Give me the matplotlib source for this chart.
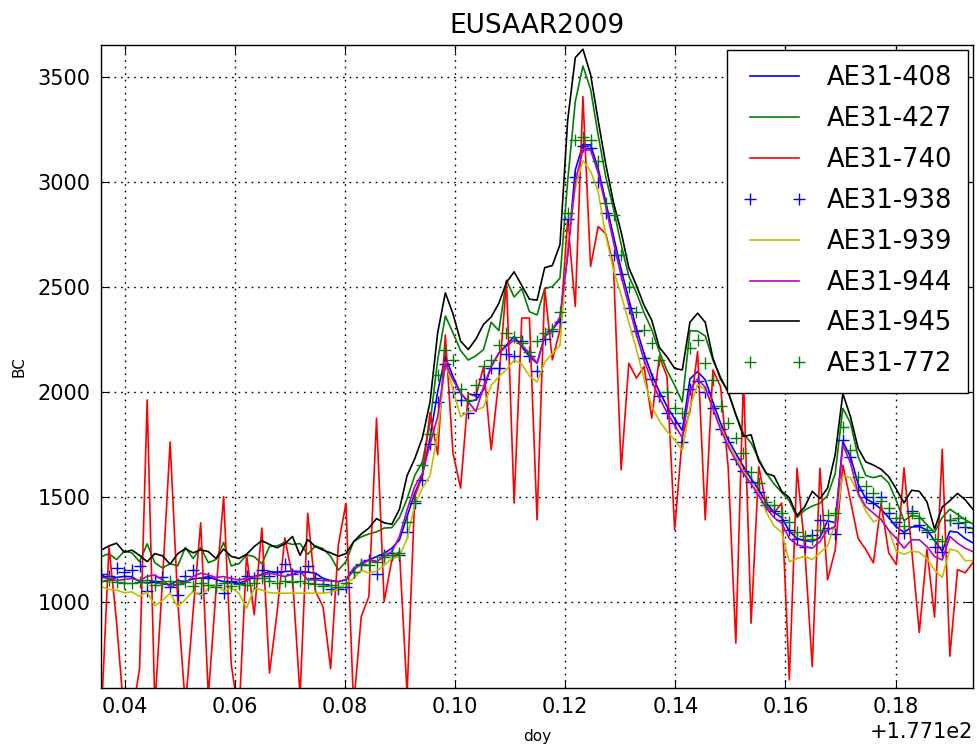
import numpy as np
import matplotlib
matplotlib.use("Agg")
import matplotlib.pyplot as plt

plt.rcParams["font.family"] = ["DejaVu Sans"]

# time axis: day of year, 2-minute samples
start_doy = 177.1357
step_min = 2.0
n_pts = 115

ae31_408 = [1127,1105,1115,1120,1118,1095,1088,1092,1085,1080,1100,1095,1108,1112,1119,
            1105,1095,1092,1087,1100,1119,1130,1143,1140,1143,1145,1143,1140,1135,
            1111,1100,1095,1103,1150,1183,1198,1214,1230,1254,1294,1405,1516,1600,
            1780,2000,2167,2071,1992,1952,1960,2008,2119,2183,2222,2262,2214,2167,2135,2262,2294,2341,
            2650,3055,3175,3175,3060,2900,2740,2580,2440,2300,2180,2080,2000,
            1930,1870,1815,2060,2095,2056,1950,1850,1770,1706,1643,1585,1532,1469,1425,1400,1335,
            1300,1290,1286,1305,1385,1375,1760,1690,1560,1490,1470,1440,1400,1355,1330,1355,1357,1341,1290,1240,1335,1330,1300,1280]

ae31_427 = [1214,1228,1200,1240,1232,1190,1275,1185,1160,1180,1170,1258,1205,1258,1185,
            1200,1282,1170,1180,1222,1214,1180,1262,1265,1282,1272,1276,1225,1265,
            1252,1215,1150,1190,1285,1308,1322,1332,1350,1352,1400,1490,1600,1665,
            1850,2150,2360,2280,2195,2150,2170,2200,2330,2290,2530,2450,2490,2380,2365,2490,2500,2540,
            3000,3380,3550,3440,3220,3020,2870,2700,2550,2470,2375,2295,2190,
            2100,2030,1950,2290,2288,2265,2150,2070,1995,1890,1800,1755,1680,1610,1560,1520,1480,
            1400,1435,1455,1468,1505,1610,1920,1850,1690,1600,1590,1600,1565,1480,1385,1410,1405,1365,1330,1400,1440,1415,1390,1370]

ae31_740 = [450,1260,900,450,450,680,1960,500,1100,1760,1000,500,950,1375,550,
            1050,1500,700,450,1222,937,1350,660,950,1303,1119,550,1420,1050,
            976,680,1270,1468,500,929,1024,1873,1000,1198,1238,560,1500,1600,
            1900,1700,2270,1707,1540,1992,1976,2119,1722,2056,2524,1469,2350,2350,1389,2492,2151,2294,
            2817,2405,3405,2595,2786,2750,2600,1627,2135,2064,2119,1873,2167,
            2071,1341,1786,1905,2190,1389,2103,2024,1640,802,2071,897,1643,1452,1422,1469,627,
            1635,1260,690,1635,1103,1246,1650,1480,1300,1248,1184,1467,1232,1176,1637,1250,853,1248,926,1725,740,1152,1137,1184]

ae31_938 = [1130,1120,1159,1143,1151,1167,1048,1100,1119,1070,1032,1120,1151,1040,1110,
            1080,1040,1100,1090,1120,1110,1150,1120,1140,1180,1130,1140,1170,1110,
            1085,1060,1060,1070,1140,1175,1200,1130,1220,1230,1220,1330,1470,1580,
            1750,1950,2130,2000,1960,1900,1990,2060,2110,2110,2180,2170,2240,2170,2100,2250,2290,2330,
            2820,3020,3170,3160,3000,2850,2650,2560,2400,2290,2160,2060,1980,
            1900,1850,1760,2010,2050,2000,1920,1820,1760,1680,1620,1570,1520,1460,1430,1390,1340,
            1300,1262,1318,1389,1349,1320,1770,1690,1532,1500,1470,1500,1421,1380,1326,1429,1365,1330,1262,1238,1389,1373,1357,1330]

ae31_939 = [1070,1058,1055,1042,1046,1025,1045,980,1005,1040,975,1010,1050,1030,1060,
            1080,1050,1065,1040,968,1065,1055,1042,1040,1040,1040,1040,1040,1040,
            1040,1045,1060,1088,1110,1150,1135,1145,1172,1205,1214,1300,1460,1540,
            1600,1800,2140,2010,1880,1905,1913,1925,2030,2070,2105,2150,2130,2075,2045,2140,2180,2220,
            2700,2970,3100,3050,2950,2740,2580,2460,2330,2200,2060,1930,1860,
            1810,1770,1720,1925,2035,2008,1920,1830,1750,1690,1620,1560,1515,1425,1360,1330,1190,
            1205,1215,1200,1232,1265,1373,1600,1590,1515,1430,1380,1395,1340,1240,1225,1240,1235,1205,1150,1115,1250,1240,1195,1195]

ae31_944 = [1115,1110,1100,1105,1110,1100,1120,1127,1103,1070,1080,1090,1119,1135,1127,
            1115,1119,1110,1103,1110,1119,1125,1135,1128,1119,1130,1143,1103,1103,
            1100,1098,1095,1105,1159,1175,1198,1190,1214,1238,1310,1437,1548,1611,
            1750,1880,2135,2056,1992,1952,1905,2024,2119,2183,2215,2246,2222,2183,2135,2262,2294,2357,
            2650,3000,3150,3150,3040,2880,2710,2550,2410,2270,2150,2050,1970,
            1900,1840,1780,2010,2060,2020,1920,1820,1740,1670,1610,1560,1505,1445,1400,1373,1300,
            1270,1262,1254,1286,1341,1357,1746,1660,1516,1452,1421,1390,1340,1300,1254,1294,1294,1262,1214,1198,1310,1278,1254,1238]

ae31_945 = [1245,1265,1278,1235,1245,1220,1190,1228,1218,1178,1228,1252,1232,1246,1238,
            1205,1250,1215,1205,1225,1262,1290,1272,1256,1275,1310,1220,1295,1262,
            1245,1232,1216,1228,1285,1322,1350,1395,1375,1368,1440,1600,1680,1780,
            1950,2280,2470,2370,2240,2200,2250,2320,2355,2420,2520,2570,2505,2440,2435,2590,2600,2700,
            3290,3590,3630,3510,3290,3080,2900,2760,2590,2505,2410,2340,2210,
            2165,2110,2103,2330,2373,2330,2160,2060,2000,1890,1786,1794,1670,1610,1598,1525,1495,
            1410,1450,1525,1490,1540,1700,1990,1880,1730,1665,1650,1630,1595,1535,1470,1530,1525,1475,1345,1450,1480,1515,1485,1440]

ae31_772 = [1100,1103,1095,1090,1087,1095,1105,1080,1090,1100,1085,1095,1075,1090,1080,
            1070,1090,1075,1085,1080,1090,1110,1100,1090,1100,1095,1100,1090,1085,
            1075,1080,1070,1090,1140,1180,1175,1190,1210,1220,1230,1380,1480,1650,
            1800,2080,2200,2150,2010,1960,2030,2120,2150,2220,2280,2260,2230,2190,2240,2280,2300,2380,
            2850,3200,3210,3200,3100,2900,2840,2650,2500,2380,2294,2230,2150,
            2000,1920,1900,2206,2246,2135,2056,1929,1850,1780,1706,1619,1564,1476,1460,1420,1380,
            1330,1310,1300,1340,1410,1420,1833,1722,1595,1548,1516,1480,1444,1400,1360,1420,1400,1340,1300,1290,1389,1400,1380,1350]

series = [
    ("AE31-408", ae31_408, dict(color=(0, 0, 1), linestyle="-")),
    ("AE31-427", ae31_427, dict(color=(0, 0.5, 0), linestyle="-")),
    ("AE31-740", ae31_740, dict(color=(1, 0, 0), linestyle="-")),
    ("AE31-938", ae31_938, dict(color=(0, 0, 1), linestyle="none", marker="+", markersize=9, markeredgewidth=1.0)),
    ("AE31-939", ae31_939, dict(color=(0.75, 0.75, 0), linestyle="-")),
    ("AE31-944", ae31_944, dict(color=(0.75, 0, 0.75), linestyle="-")),
    ("AE31-945", ae31_945, dict(color=(0, 0, 0), linestyle="-")),
    ("AE31-772", ae31_772, dict(color=(0, 0.5, 0), linestyle="none", marker="+", markersize=9, markeredgewidth=1.0)),
]

doy = start_doy + np.arange(n_pts) * step_min / 1440.0

fig = plt.figure(figsize=(9.77, 7.44), dpi=100)
ax = fig.add_axes([0.1037, 0.0757, 0.892, 0.8638])

for label, vals, style in series:
    ax.plot(doy, vals, label=label, linewidth=1.2, **style)

ax.set_xlim(doy[0], doy[-1])
ax.set_ylim(590, 3650)
ax.set_yticks([1000, 1500, 2000, 2500, 3000, 3500])
ax.set_xticks([177.14, 177.16, 177.18, 177.20, 177.22, 177.24, 177.26, 177.28])
ax.ticklabel_format(axis="x", useOffset=177.1)

ax.grid(True, color="k", linestyle=(0, (1.2, 3.5)), linewidth=1.0)
ax.tick_params(direction="in", top=True, right=True, labelsize=15, length=6)
ax.tick_params(axis="y", pad=8)
ax.tick_params(axis="x", pad=7)
for sp in ax.spines.values():
    sp.set_linewidth(1.0)
ax.xaxis.get_offset_text().set_fontsize(15)

ax.set_title("EUSAAR2009", fontsize=19, pad=9)
ax.set_xlabel("doy", fontsize=11, labelpad=8)
ax.set_ylabel("BC", fontsize=11, labelpad=8)

leg = ax.legend(loc="upper right", fontsize=18.5, numpoints=2, handlelength=2.5,
                labelspacing=0.58, fancybox=False, framealpha=1.0,
                borderpad=0.6, handletextpad=0.8, borderaxespad=0.18)
leg.get_frame().set_edgecolor("k")
leg.get_frame().set_linewidth(1.0)

fig.savefig("out.png", dpi=100)
